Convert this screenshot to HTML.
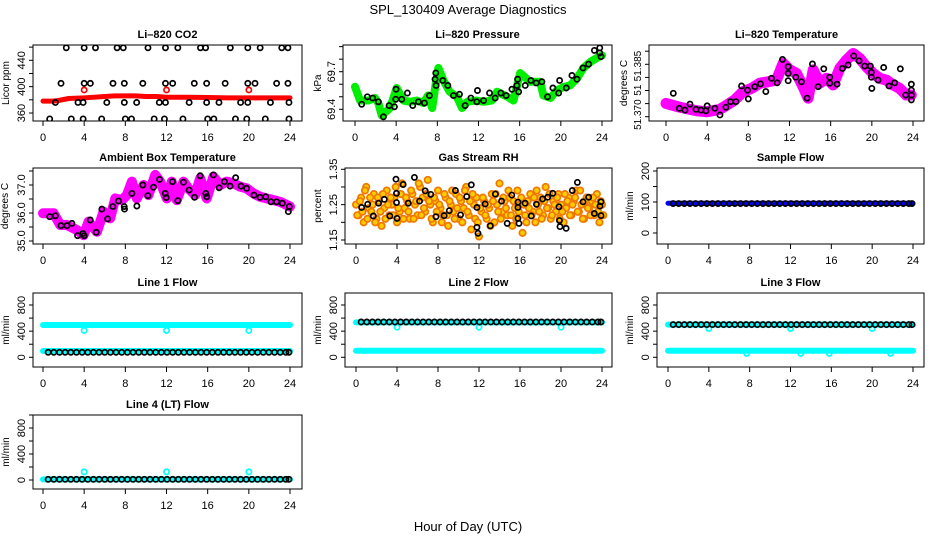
<!DOCTYPE html>
<html><head><meta charset="utf-8"><style>
html,body{margin:0;padding:0;background:#fff;}
svg{display:block;font-family:"Liberation Sans",Arial,sans-serif;}
</style></head><body>
<svg id="chart" width="936" height="540" viewBox="0 0 936 540" xmlns="http://www.w3.org/2000/svg">
<text x="468" y="14" font-size="13" text-anchor="middle">SPL_130409  Average Diagnostics</text>
<text x="468" y="531" font-size="13" text-anchor="middle">Hour of Day (UTC)</text>
</svg>
<script>
// ---- data ----
const xTicks = [0,4,8,12,16,20,24];
// CO2
const co2RedHours = [0,1,1.5,2.5,4,5,6,7,8,9,10,11,12,14,16,18,20,22,24];
const co2RedVals  = [378,378,379,382,383,384,385,386,386,386,385,385,384,384,383.5,383,383,383,383];
const co2RedPtHours = [4,12,20];
const co2RedPtVals = [395,395,395];
const co2BlkHours = [2.26,4.0,5.1,7.2,7.8,10.2,11.9,13.1,15.3,15.8,18.2,19.9,21.1,23.2,23.8,
 1.75,4,4.6,6.8,7.9,9.7,11.9,12.6,14.7,15.9,17.7,19.9,20.6,22.7,23.8,
 1.2,3.4,3.9,6.2,7.9,9.1,11.3,11.9,14.2,15.9,17.1,19.2,19.9,22.1,23.9,
 0.65,2.75,3.9,5.7,8.0,8.6,10.8,11.8,13.6,16.0,16.6,18.7,19.8,21.6,23.9];
const co2BlkVals = [459,459,459,459,459,459,459,459,459,459,459,459,459,459,459,
 405,405,405,405,405,405,405,405,405,405,405,405,405,405,405,
 376,376,376,376,376,376,376,376,376,376,376,376,376,376,376,
 351,351,351,351,351,351,351,351,351,351,351,351,351,351,351];
// Pressure
const prsHours = [0,0.49,1.3,1.95,2.27,2.6,3.4,4.05,4.7,5.35,6,6.65,7.1,7.5,7.8,8.1,8.6,9.2,9.9,10.4,10.9,11.8,12.5,13.3,13.8,14.8,15.4,16.05,17,18,18.3,19,19.6,20.3,20.9,21.6,22.2,22.9,23.5,24];
const prsVals  = [69.58,69.47,69.47,69.49,69.45,69.35,69.41,69.57,69.47,69.46,69.47,69.45,69.51,69.41,69.58,69.73,69.63,69.54,69.50,69.41,69.46,69.47,69.46,69.47,69.54,69.50,69.47,69.69,69.62,69.62,69.51,69.49,69.55,69.58,69.59,69.65,69.73,69.78,69.81,69.83];
const prsBlkHours = [0.65,1.2,1.72,2.27,2.76,3.31,3.83,3.96,3.99,4.54,5.09,5.61,6.16,6.75,7.23,7.78,7.85,7.88,8.53,9.02,9.57,10.15,10.7,11.26,11.84,11.9,12.49,13.07,13.62,14.17,14.69,15.25,15.73,15.8,15.9,16.54,17.09,17.61,18.16,18.71,19.23,19.79,19.88,20.53,21.08,21.57,22.15,22.7,23.26,23.78,23.78,23.9];
const prsBlkVals  = [69.44,69.50,69.49,69.46,69.34,69.43,69.42,69.48,69.56,69.48,69.53,69.43,69.46,69.45,69.51,69.64,69.69,69.59,69.63,69.59,69.51,69.52,69.43,69.49,69.46,69.55,69.47,69.53,69.49,69.53,69.51,69.56,69.59,69.64,69.54,69.59,69.63,69.61,69.62,69.50,69.57,69.53,69.63,69.57,69.67,69.64,69.73,69.76,69.87,69.89,69.85,69.82];
// Li-820 temperature
const tmpHours = [0,1.36,2.98,3.95,5.24,5.89,6.69,7.5,8.31,9.12,9.93,10.74,11.38,12.03,12.68,13.32,13.81,14.3,14.94,15.59,16.24,16.88,17.53,18.18,18.82,19.47,20.12,20.76,21.41,22.06,22.7,23.35,23.83];
const tmpVals  = [51.3738,51.3727,51.3717,51.3714,51.3721,51.3733,51.3748,51.3772,51.3781,51.3796,51.3800,51.3805,51.3853,51.3834,51.3824,51.3786,51.3753,51.3834,51.3796,51.3810,51.3791,51.3838,51.3862,51.3881,51.3867,51.3843,51.3824,51.3810,51.3805,51.3791,51.3781,51.3762,51.3762];
const tmpBlkHours = [0.71,1.29,1.84,2.33,2.91,3.4,3.88,4.0,4.75,5.24,5.82,6.27,6.79,7.34,7.92,8.0,8.63,9.18,9.7,10.25,10.8,11.32,11.87,11.87,11.87,12.61,13.16,13.71,14.23,14.78,15.33,15.91,15.91,16.62,17.14,17.69,18.24,18.76,19.31,19.86,19.95,19.95,20.0,20.6,21.15,21.67,22.22,22.77,23.29,23.84,23.84,23.84,23.84];
const tmpBlkVals  = [51.3767,51.3724,51.3719,51.3736,51.3721,51.3719,51.3717,51.3731,51.3724,51.3705,51.3727,51.3743,51.3743,51.3788,51.3776,51.3751,51.3786,51.3794,51.3772,51.3810,51.3797,51.3864,51.3843,51.3824,51.3803,51.3813,51.3800,51.3753,51.3851,51.3786,51.3837,51.3813,51.3796,51.3793,51.3838,51.3848,51.3874,51.3860,51.3845,51.3845,51.3827,51.3813,51.3781,51.3805,51.3841,51.3788,51.3797,51.3837,51.3762,51.3793,51.3776,51.3762,51.3748];
// Ambient box temperature
const ambHours = [0,1.03,1.68,2.33,3.3,3.95,4.43,5.24,5.89,6.53,7.02,7.67,8.15,8.64,9.12,9.77,10.25,10.9,11.38,12.03,12.51,13.0,13.65,14.13,14.78,15.27,15.91,16.56,17.21,17.85,18.5,19.15,19.79,20.44,21.09,21.73,22.38,23.03,24];
const ambVals  = [35.99,35.99,35.57,35.57,35.39,35.21,35.69,35.33,36.05,35.81,36.52,36.46,36.64,37.12,36.52,37.0,36.64,37.36,37.12,36.52,37.12,36.46,37.12,36.88,36.64,37.24,36.52,37.30,37.0,37.12,37.06,36.94,36.88,36.70,36.58,36.52,36.46,36.40,36.23];
const ambBlkHours = [0.65,1.2,1.75,2.33,2.81,3.36,3.88,4.0,4.59,5.17,5.72,6.27,6.79,7.34,7.89,7.92,8.64,9.12,9.7,10.19,10.74,11.32,11.87,11.97,12.58,13.1,13.65,14.2,14.72,15.27,15.82,15.91,16.56,17.11,17.63,18.18,18.72,19.24,19.79,20.5,21.09,21.64,22.15,22.7,23.25,23.84,23.93];
const ambBlkVals  = [35.87,35.90,35.55,35.55,35.63,35.19,35.27,35.19,35.75,35.31,36.14,35.79,36.23,36.43,36.23,36.14,36.70,36.25,37.0,36.62,36.92,37.20,36.70,36.55,37.12,36.44,37.10,36.82,36.56,37.33,36.70,36.58,37.36,36.90,37.12,36.96,37.26,36.96,36.88,36.64,36.56,36.58,36.40,36.40,36.35,36.05,36.23];
// Gas stream RH
const rhHours = [0,0.25,0.5,0.75,1,1.25,1.5,1.75,2,2.25,2.5,2.75,3,3.25,3.5,3.75,4,4.25,4.5,4.75,5,5.25,5.5,5.75,6,6.25,6.5,6.75,7,7.25,7.5,7.75,8,8.25,8.5,8.75,9,9.25,9.5,9.75,10,10.25,10.5,10.75,11,11.25,11.5,11.75,12,12.25,12.5,12.75,13,13.25,13.5,13.75,14,14.25,14.5,14.75,15,15.25,15.5,15.75,16,16.25,16.5,16.75,17,17.25,17.5,17.75,18,18.25,18.5,18.75,19,19.25,19.5,19.75,20,20.25,20.5,20.75,21,21.25,21.5,21.75,22,22.25,22.5,22.75,23,23.25,23.5,23.75,24];
const rhVals  = [1.25,1.22,1.27,1.20,1.30,1.24,1.23,1.28,1.21,1.26,1.19,1.24,1.29,1.22,1.25,1.27,1.20,1.23,1.31,1.24,1.26,1.21,1.28,1.25,1.22,1.30,1.27,1.23,1.32,1.25,1.20,1.26,1.29,1.24,1.22,1.27,1.19,1.25,1.23,1.28,1.21,1.26,1.24,1.30,1.22,1.18,1.25,1.27,1.16,1.23,1.26,1.21,1.24,1.28,1.20,1.25,1.31,1.23,1.26,1.22,1.27,1.19,1.24,1.29,1.25,1.17,1.22,1.26,1.28,1.23,1.20,1.25,1.27,1.22,1.30,1.24,1.21,1.26,1.23,1.28,1.25,1.20,1.24,1.27,1.22,1.26,1.29,1.23,1.25,1.21,1.27,1.24,1.26,1.22,1.28,1.20,1.25];
const rhVals2 = [1.22,1.26,1.23,1.29,1.21,1.27,1.25,1.20,1.27,1.23,1.28,1.21,1.25,1.27,1.22,1.30,1.24,1.28,1.21,1.27,1.23,1.29,1.21,1.26,1.31,1.22,1.24,1.28,1.26,1.21,1.27,1.23,1.25,1.20,1.28,1.22,1.26,1.29,1.21,1.24,1.27,1.20,1.29,1.23,1.26,1.28,1.21,1.20,1.24,1.27,1.22,1.25,1.19,1.26,1.28,1.23,1.21,1.27,1.24,1.29,1.22,1.26,1.21,1.23,1.27,1.25,1.20,1.24,1.22,1.27,1.29,1.23,1.21,1.26,1.24,1.28,1.22,1.25,1.27,1.21,1.23,1.28,1.26,1.22,1.25,1.27,1.23,1.29,1.21,1.26,1.24,1.22,1.27,1.25,1.23,1.26,1.22];
const rhBlkHours = [0.55,1.14,1.69,2.2,2.76,3.3,3.9,3.95,3.95,4.0,4.6,5.1,5.7,6.2,6.75,7.3,7.8,8.6,9.1,9.7,10.2,10.8,11.25,11.8,11.8,11.9,12.6,13.1,13.6,14.2,14.75,15.2,15.8,15.8,15.8,15.9,16.5,17.1,17.6,18.2,18.7,19.2,19.8,19.85,19.9,20.5,21.1,21.6,22.15,22.7,23.25,23.8,23.9,23.9];
const rhBlkVals  = [1.242,1.251,1.218,1.254,1.265,1.218,1.322,1.282,1.256,1.211,1.307,1.254,1.327,1.260,1.289,1.279,1.216,1.219,1.233,1.290,1.221,1.273,1.306,1.242,1.186,1.169,1.252,1.190,1.280,1.260,1.197,1.277,1.257,1.242,1.211,1.197,1.254,1.218,1.251,1.266,1.271,1.282,1.244,1.205,1.188,1.183,1.290,1.313,1.258,1.271,1.225,1.246,1.219,1.258];
// Flow series (shared hour grid for black markers)
const flowHours = [0.5,1.05,1.6,2.15,2.7,3.25,3.8,4.35,4.9,5.45,6.0,6.55,7.1,7.65,8.2,8.75,9.3,9.85,10.4,10.95,11.5,12.05,12.6,13.15,13.7,14.25,14.8,15.35,15.9,16.45,17.0,17.55,18.1,18.65,19.2,19.75,20.3,20.85,21.4,21.95,22.5,23.05,23.6,23.9];
const sampleBlk = [95,95,95,95,95,95,95,95,95,95,95,95,95,95,95,95,95,95,95,95,95,95,95,95,95,95,95,95,95,95,95,95,95,95,95,95,95,95,95,95,95,95,95,95];
const line1Blk  = [76,76,76,76,76,76,76,76,76,76,76,76,76,76,76,76,76,76,76,76,76,76,76,76,76,76,76,76,76,76,76,76,76,76,76,76,76,76,76,76,76,76,76,76];
const line2Blk  = [540,540,540,540,540,540,540,540,540,540,540,540,540,540,540,540,540,540,540,540,540,540,540,540,540,540,540,540,540,540,540,540,540,540,540,540,540,540,540,540,540,540,540,540];
const line3Blk  = [500,500,500,500,500,500,500,500,500,500,500,500,500,500,500,500,500,500,500,500,500,500,500,500,500,500,500,500,500,500,500,500,500,500,500,500,500,500,500,500,500,500,500,500];
const line4Blk  = [10,10,10,10,10,10,10,10,10,10,10,10,10,10,10,10,10,10,10,10,10,10,10,10,10,10,10,10,10,10,10,10,10,10,10,10,10,10,10,10,10,10,10,10];
const sampleLineHours = [0,24];
const sampleLineVals = [96,96];
const line1CyanHi = [494,494];
const line1CyanLo = [96,96];
const line2CyanHi = [535,535];
const line2CyanLo = [100,100];
const line3CyanHi = [500,500];
const line3CyanLo = [100,100];
const line4Cyan   = [10,10];
const dipHours = [4,12,20];
const line1Dips = [410,410,410];
const line2Dips = [460,460,460];
const line3Dips = [440,440,440];
const line4Spikes = [125,125,125];
const line3LoDipHours = [7.7,13.0,15.8,21.8];
const line3LoDips = [60,60,60,60];

// ---- drawing ----
const NS = "http://www.w3.org/2000/svg";
const svg = document.getElementById('chart');
function mk(tag, attrs, parent){
  const e = document.createElementNS(NS, tag);
  for (const k in attrs) e.setAttribute(k, attrs[k]);
  (parent||svg).appendChild(e);
  return e;
}
function makePanel(p){
  const g = mk('g', {});
  
  
  const xs = h => p.x0 + (h/24)*(p.x24 - p.x0);
  const ys = v => p.ry1 + (v - p.rv1)*(p.ry2 - p.ry1)/(p.rv2 - p.rv1);
  const t = mk('text', {x:(p.l+p.r)/2, y:p.t-7, 'font-size':11, 'font-weight':'bold', 'text-anchor':'middle'}, g);
  t.textContent = p.title;
  
  
  const xa = mk('g', {}, g);
  
  
  xTicks.forEach(h => {
    mk('line', {x1:xs(h), x2:xs(h), y1:p.b, y2:p.b+5, stroke:'#000'}, xa);
    const tl = mk('text', {x:xs(h), y:p.b+20, 'font-size':11, 'text-anchor':'middle'}, xa);
    tl.textContent = h;
  });
  const ya = mk('g', {}, g);
  
  
  p.yt.forEach(v => { const y = ys(v); if (y < p.t-0.5 || y > p.b+0.5) return; mk('line', {x1:p.l-4, x2:p.l, y1:y, y2:y, stroke:'#000'}, ya); });
  const fs = p.ytfs || 11;
  p.yl.forEach((v,i) => {
    const y = ys(v), x = p.l-8;
    const tl = mk('text', {x:x, y:y, 'font-size':fs, 'text-anchor':'middle', transform:`rotate(-90 ${x} ${y})`}, ya);
    tl.textContent = p.ylt[i];
  });
  const yl = mk('text', {x:p.labx, y:(p.t+p.b)/2, 'font-size':10, 'text-anchor':'middle', transform:`rotate(-90 ${p.labx} ${(p.t+p.b)/2})`}, g);
  yl.textContent = p.ylabel;
  
  
  const clip = 'clip-' + p.name;
  const cp = mk('clipPath', {id:clip}, g);
  mk('rect', {x:p.l, y:p.t, width:p.r-p.l, height:p.b-p.t}, cp);
  const plot = mk('g', {'clip-path':`url(#${clip})`}, g);
  p.draw(plot, xs, ys);
  const box = mk('rect', {x:p.l, y:p.t, width:p.r-p.l, height:p.b-p.t, fill:'none', stroke:'#000', 'stroke-width':1}, g);
  
  
}
function band(g, xs, ys, hours, vals, color, w, name){
  const pl = mk('polyline', {points: hours.map((h,i)=>xs(h)+','+ys(vals[i])).join(' '), fill:'none', stroke:color, 'stroke-width':w, 'stroke-linejoin':'round', 'stroke-linecap':'round'}, g);
  
  
}
function pts(g, xs, ys, hours, vals, color, name, r, fill){
  const sg = mk('g', {}, g);
  
  
  hours.forEach((h,i) => {
    const c = mk('circle', {cx:xs(h), cy:ys(vals[i]), r:r||2.6, fill:fill||'none', stroke:color, 'stroke-width':1.7}, sg);
    
    
  });
}
const rows = [[45,121],[168,244],[293,367],[415,489]];
const C1 = {l:33, r:302, x0:43, x24:290, labx:9};
const C2 = {l:345, r:612, x0:356, x24:602, labx:321};
const C3 = {l:657, r:924, x0:668, x24:913, labx:633};
const flowY = (row) => ({rv1:0, ry1:row===2?357.3:480, rv2:800, ry2:row===2?305:428, yt:[0,200,400,600,800,1000], yl:[0,400,800], ylt:['0','400','800'], ylabel:'ml/min'});

const panels = [
 Object.assign({}, C1, {name:'co2', title:'Li–820 CO2', t:rows[0][0], b:rows[0][1], rv1:360, ry1:113, rv2:440, ry2:60.3,
   yt:[360,380,400,420,440,460], yl:[360,400,440], ylt:['360','400','440'], ylabel:'Licor ppm',
   draw:(g,xs,ys)=>{ band(g,xs,ys,co2RedHours,co2RedVals,'#ff0000',5,'co2-red-series');
     pts(g,xs,ys,co2RedPtHours,co2RedPtVals,'#ff0000','co2-red-points');
     pts(g,xs,ys,co2BlkHours,co2BlkVals,'#000','co2-black-points'); }}),
 Object.assign({}, C2, {l:343, x0:355, name:'pressure', title:'Li–820 Pressure', t:rows[0][0], b:rows[0][1], rv1:69.4, ry1:109.3, rv2:69.7, ry2:71.7,
   yt:[69.3,69.4,69.5,69.6,69.7,69.8,69.9], yl:[69.4,69.7], ylt:['69.4','69.7'], ylabel:'kPa',
   draw:(g,xs,ys)=>{ band(g,xs,ys,prsHours,prsVals,'#00ee00',8,'pressure-green-series');
     pts(g,xs,ys,prsBlkHours,prsBlkVals,'#000','pressure-black-points'); }}),
 Object.assign({}, C3, {l:649, x0:666, name:'licor-temp', title:'Li–820 Temperature', t:rows[0][0], b:rows[0][1], rv1:51.370, ry1:116.7, rv2:51.385, ry2:64.3, ytfs:10,
   yt:[51.370,51.37375,51.3775,51.38125,51.385,51.38875], yl:[51.3706,51.3776,51.3845], ylt:['51.370','51','51.385'], ylabel:'degrees C', labx:627,
   draw:(g,xs,ys)=>{ band(g,xs,ys,tmpHours,tmpVals,'#ff00ff',11,'licor-temp-magenta-series');
     pts(g,xs,ys,tmpBlkHours,tmpBlkVals,'#000','licor-temp-black-points'); }}),
 Object.assign({}, C1, {name:'ambient', title:'Ambient Box Temperature', t:rows[1][0], b:rows[1][1], rv1:35.0, ry1:241, rv2:37.0, ry2:185,
   yt:[35.0,35.5,36.0,36.5,37.0,37.5], yl:[35.0,36.0,37.0], ylt:['35.0','36.0','37.0'], ylabel:'degrees C', labx:8,
   draw:(g,xs,ys)=>{ band(g,xs,ys,ambHours,ambVals,'#ff00ff',10,'ambient-magenta-series');
     pts(g,xs,ys,ambBlkHours,ambBlkVals,'#000','ambient-black-points'); }}),
 Object.assign({}, C2, {name:'gas-rh', title:'Gas Stream RH', t:rows[1][0], b:rows[1][1], rv1:1.15, ry1:240, rv2:1.35, ry2:169.3,
   yt:[1.15,1.20,1.25,1.30,1.35], yl:[1.15,1.25,1.35], ylt:['1.15','1.25','1.35'], ylabel:'percent',
   draw:(g,xs,ys)=>{ pts(g,xs,ys,rhHours,rhVals,'#f07800','gas-rh-orange-points',3.2,'#ffcc00');
     pts(g,xs,ys,rhHours.map(h=>h+0.125),rhVals2,'#f07800','gas-rh-orange-points-2',3.2,'#ffcc00');
     pts(g,xs,ys,rhBlkHours,rhBlkVals,'#000','gas-rh-black-points'); }}),
 Object.assign({}, C3, {name:'sample-flow', title:'Sample Flow', t:rows[1][0], b:rows[1][1], rv1:0, ry1:233, rv2:200, ry2:171,
   yt:[0,50,100,150,200], yl:[0,100,200], ylt:['0','100','200'], ylabel:'ml/min',
   draw:(g,xs,ys)=>{ band(g,xs,ys,sampleLineHours,sampleLineVals,'#0000ff',5,'sample-flow-blue-series');
     pts(g,xs,ys,flowHours,sampleBlk,'#000','sample-flow-black-points'); }}),
 Object.assign({}, C1, flowY(2), {name:'line1-flow', title:'Line 1 Flow', t:rows[2][0], b:rows[2][1],
   draw:(g,xs,ys)=>{ band(g,xs,ys,sampleLineHours,line1CyanHi,'#00ffff',6,'line1-cyan-high');
     band(g,xs,ys,sampleLineHours,line1CyanLo,'#00ffff',6,'line1-cyan-low');
     pts(g,xs,ys,dipHours,line1Dips,'#00ffff','line1-cyan-dips');
     pts(g,xs,ys,flowHours,line1Blk,'#000','line1-black-points'); }}),
 Object.assign({}, C2, flowY(2), {name:'line2-flow', title:'Line 2 Flow', t:rows[2][0], b:rows[2][1],
   draw:(g,xs,ys)=>{ band(g,xs,ys,sampleLineHours,line2CyanHi,'#00ffff',6,'line2-cyan-high');
     band(g,xs,ys,sampleLineHours,line2CyanLo,'#00ffff',6,'line2-cyan-low');
     pts(g,xs,ys,dipHours,line2Dips,'#00ffff','line2-cyan-dips');
     pts(g,xs,ys,flowHours,line2Blk,'#000','line2-black-points'); }}),
 Object.assign({}, C3, flowY(2), {name:'line3-flow', title:'Line 3 Flow', t:rows[2][0], b:rows[2][1],
   draw:(g,xs,ys)=>{ band(g,xs,ys,sampleLineHours,line3CyanHi,'#00ffff',6,'line3-cyan-high');
     band(g,xs,ys,sampleLineHours,line3CyanLo,'#00ffff',6,'line3-cyan-low');
     pts(g,xs,ys,dipHours,line3Dips,'#00ffff','line3-cyan-dips');
     pts(g,xs,ys,line3LoDipHours,line3LoDips,'#00ffff','line3-cyan-low-dips');
     pts(g,xs,ys,flowHours,line3Blk,'#000','line3-black-points'); }}),
 Object.assign({}, C1, flowY(3), {name:'line4-flow', title:'Line 4 (LT) Flow', t:rows[3][0], b:rows[3][1],
   draw:(g,xs,ys)=>{ band(g,xs,ys,sampleLineHours,line4Cyan,'#00ffff',6,'line4-cyan-series');
     pts(g,xs,ys,dipHours,line4Spikes,'#00ffff','line4-cyan-spikes');
     pts(g,xs,ys,flowHours,line4Blk,'#000','line4-black-points'); }})
];
panels.forEach(makePanel);
</script>
</body></html>
